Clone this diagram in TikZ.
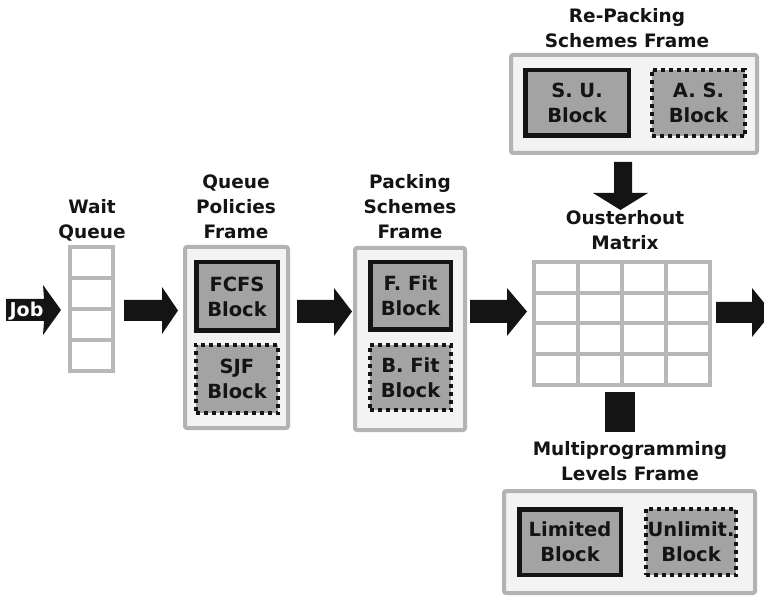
\documentclass[tikz,border=0pt]{standalone}
\usepackage{fontspec}
\setmainfont{DejaVu Sans}
\definecolor{blk}{HTML}{141414}
\definecolor{blkfill}{HTML}{A3A3A3}
\definecolor{framefill}{HTML}{F3F3F3}
\definecolor{framegray}{HTML}{B3B3B3}
\definecolor{gridgray}{HTML}{B8B8B8}
\begin{document}
\begin{tikzpicture}[x=1pt,y=-1pt,
 lbl/.style={font=\bfseries\fontsize{18.5}{25}\selectfont, align=center, text=blk, inner sep=0pt},
 frame/.style={draw=framegray, line width=4pt, fill=framefill, rounded corners=2pt, inner sep=0pt},
 solidblk/.style={draw=blk, line width=4.5pt, fill=blkfill, inner sep=0pt, font=\bfseries\fontsize{19.5}{25}\selectfont, align=center, text=blk},
 dotblk/.style={draw=blk, line width=4pt, fill=blkfill, dash pattern=on 4pt off 4pt, inner sep=0pt, font=\bfseries\fontsize{19.5}{25}\selectfont, align=center, text=blk},
 cellgrid/.style={draw=gridgray, line width=4pt, fill=white},
 fat/.style={fill=blk}]
\useasboundingbox (0,0) rectangle (764,596);
\clip (0,0) rectangle (764,596);

% ---- labels
\node[lbl] (lwq) at (92,220) {Wait\\Queue};
\node[lbl] (lqp) at (236,207) {Queue\\Policies\\Frame};
\node[lbl] (lps) at (410,207) {Packing\\Schemes\\Frame};
\node[lbl] (lrp) at (627,28.5) {Re-Packing\\Schemes Frame};
\node[lbl] (lom) at (625,230.5) {Ousterhout\\Matrix};
\node[lbl] (lml) at (630,461.5) {Multiprogramming\\Levels Frame};

% ---- wait queue
\draw[cellgrid] (70,247) rectangle (113,371);
\foreach \yy in {278,309,340} \draw[draw=gridgray, line width=4pt] (70,\yy) -- (113,\yy);
\coordinate (wq) at (91.5,309);

% ---- queue policies frame
\node[frame, minimum width=103pt, minimum height=181pt] (qp) at (236.5,337.5) {};
\node[solidblk, minimum width=81.5pt, minimum height=68.5pt] (fcfs) at (237,296.5) {FCFS\\Block};
\node[dotblk, minimum width=82.5pt, minimum height=68.5pt] (sjf) at (237,379) {SJF\\Block};

% ---- packing schemes frame
\node[frame, minimum width=110pt, minimum height=182pt] (ps) at (410,339) {};
\node[solidblk, minimum width=80.5pt, minimum height=67.5pt] (ff) at (410.5,296) {F. Fit\\Block};
\node[dotblk, minimum width=81.5pt, minimum height=65.5pt] (bf) at (410.5,377.5) {B. Fit\\Block};

% ---- re-packing frame
\node[frame, minimum width=246pt, minimum height=98pt] (rp) at (634,104) {};
\node[solidblk, minimum width=103.5pt, minimum height=65.5pt] (su) at (577,103) {S. U.\\Block};
\node[dotblk, minimum width=93.5pt, minimum height=66.5pt] (as) at (698.5,103) {A. S.\\Block};

% ---- multiprogramming frame
\node[frame, minimum width=251pt, minimum height=102pt] (ml) at (629.5,542) {};
\node[solidblk, minimum width=101.5pt, minimum height=65.5pt] (lim) at (570,542) {Limited\\Block};
\node[dotblk, minimum width=90.5pt, minimum height=66.5pt] (unl) at (691,542) {Unlimit.\\Block};

% ---- Ousterhout matrix
\draw[cellgrid] (534,262) rectangle (710,385);
\foreach \xx in {578,622,666} \draw[draw=gridgray, line width=4pt] (\xx,262) -- (\xx,385);
\foreach \yy in {292.75,323.5,354.25} \draw[draw=gridgray, line width=4pt] (534,\yy) -- (710,\yy);
\coordinate (om) at (622,323.5);

% ---- fat arrows
\fill[fat] (6,299) -- (44,299) -- (43,285) -- (61,310) -- (43,335) -- (44,321) -- (6,321) -- cycle;
\node[font=\bfseries\fontsize{19}{20}\selectfont, text=white, inner sep=0pt] (job) at (26.5,311) {Job};
\fill[fat] (124,300) -- (162,300) -- (162,287) -- (178,310.5) -- (162,334) -- (162,321) -- (124,321) -- cycle;
\fill[fat] (297,300) -- (334,300) -- (334,288) -- (352,311.5) -- (334,336) -- (334,323) -- (297,323) -- cycle;
\fill[fat] (470,300) -- (507,300) -- (507,288) -- (527,311.5) -- (507,336) -- (507,323) -- (470,323) -- cycle;
\fill[fat] (716,302) -- (752,302) -- (752,288) -- (772,312.5) -- (752,337) -- (752,323) -- (716,323) -- cycle;
\fill[fat] (614,162) -- (632,162) -- (632,193) -- (648,193) -- (620.5,210) -- (593,193) -- (614,193) -- cycle;
\fill[fat] (605,392) rectangle (635,432);
\end{tikzpicture}
\end{document}
